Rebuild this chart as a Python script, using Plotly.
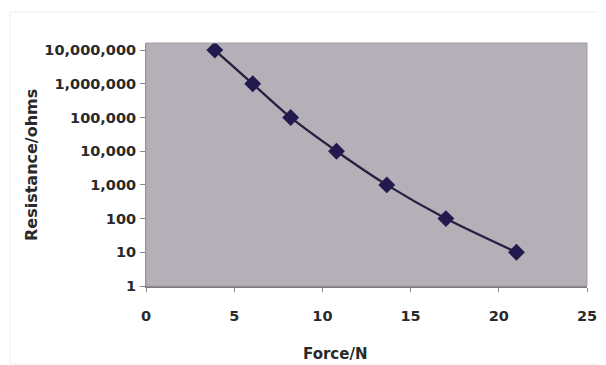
import plotly.graph_objects as go

force = [3.9, 6.05, 8.2, 10.8, 13.65, 17.0, 21.0]
resistance = [10000000, 1000000, 100000, 10000, 1000, 100, 10]

y_tickvals = [1, 10, 100, 1000, 10000, 100000, 1000000, 10000000]
y_ticktext = ["1", "10", "100", "1,000", "10,000", "100,000", "1,000,000", "10,000,000"]
x_tickvals = [0, 5, 10, 15, 20, 25]

FONT = "DejaVu Sans"
OFF = 8  # browser default body margin
W, H = 606 - 2 * OFF, 365 - OFF
L, R, T, B = 146 - OFF, 587 - OFF, 43 - OFF, 286 - OFF  # plot area in figure px
PW, PH = R - L, B - T


def px(x):
    return (x - OFF - L) / PW


def py(y):
    return (B - (y - OFF)) / PH


fig = go.Figure()
fig.add_trace(go.Scatter(
    x=force, y=resistance, mode="lines+markers",
    line=dict(color="#262040", width=2.3, shape="spline", smoothing=0.8),
    marker=dict(symbol="diamond", size=13, color="#221a4e",
                line=dict(width=0)),
    showlegend=False,
))

fig.update_layout(
    width=W, height=H,
    margin=dict(l=L, r=W - R, t=T, b=H - B, autoexpand=False),
    paper_bgcolor="white",
    plot_bgcolor="#b5b0b7",
    font=dict(family=FONT, color="#2a2a2a"),
    xaxis=dict(
        range=[0, 25], tickvals=x_tickvals, showgrid=False, zeroline=False,
        showline=True, linecolor="#7d7a80", linewidth=2,
        ticks="outside", ticklen=4, tickcolor="#8a878c", tickwidth=1,
        tickfont=dict(family=FONT, size=14.5, weight="bold", color="#2a2a2a"),
        ticklabelstandoff=12,
    ),
    yaxis=dict(
        type="log", range=[0, 7.21], tickvals=y_tickvals, ticktext=y_ticktext,
        showgrid=False, zeroline=False,
        showline=True, linecolor="#8a878c", linewidth=1,
        ticks="outside", ticklen=5, tickcolor="#8a878c", tickwidth=1,
        tickfont=dict(family=FONT, size=14.5, weight="bold", color="#2a2a2a"),
        ticklabelstandoff=1,
    ),
    annotations=[
        dict(text="Force/N", xref="paper", yref="paper",
             x=px(335), y=py(354),
             xanchor="center", yanchor="middle", showarrow=False,
             font=dict(family=FONT, size=15, weight="bold", color="#2a2a2a")),
        dict(text="Resistance/ohms", xref="paper", yref="paper",
             x=px(31), y=py(165), textangle=-90,
             xanchor="center", yanchor="middle", showarrow=False,
             font=dict(family=FONT, size=16, weight="bold", color="#2a2a2a")),
    ],
    shapes=[
        dict(type="rect", xref="paper", yref="paper",
             x0=px(10), x1=px(604), y0=py(364), y1=py(12),
             line=dict(color="#efefef", width=1), layer="below"),
        dict(type="rect", xref="paper", yref="paper", x0=0, x1=1, y0=0, y1=1,
             line=dict(color="#a19ea4", width=1), layer="above"),
    ],
)

fig.write_html("out.html")
